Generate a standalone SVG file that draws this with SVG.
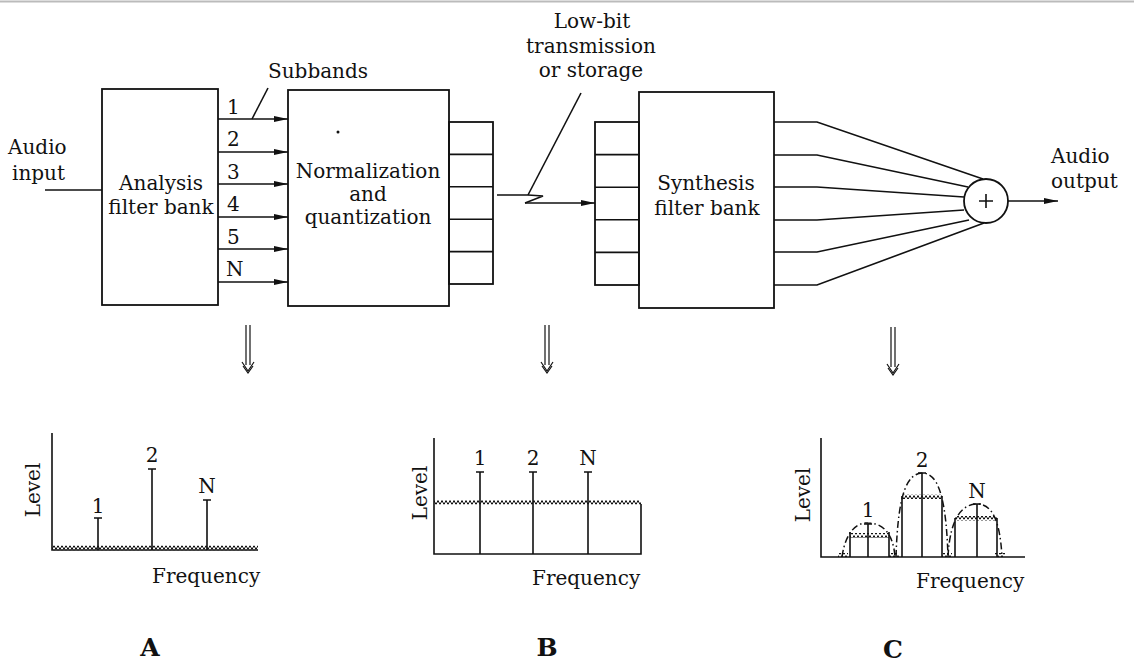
<svg xmlns="http://www.w3.org/2000/svg" width="1134" height="667" viewBox="0 0 1134 667">
<style>
text{font-family:"DejaVu Serif","Liberation Serif",serif;font-size:20px;fill:#111}
.c{text-anchor:middle}
.big{font-size:25px;font-weight:bold}
.ln{stroke:#111;stroke-width:1.6;fill:none}
.box{stroke:#111;stroke-width:1.8;fill:none}
.dd{stroke:#111;stroke-width:1.5;fill:none;stroke-dasharray:7 3 1.5 3}
</style>
<defs>
<marker id="ah" viewBox="0 0 14 6" refX="14" refY="3" markerWidth="14" markerHeight="6" markerUnits="userSpaceOnUse" orient="auto">
<path d="M0,0 L14,3 L0,6 Z" fill="#111"/>
</marker>
<pattern id="zig" x="0" y="0" width="4" height="5" patternUnits="userSpaceOnUse">
<polyline points="0,4.5 2,0.5 4,4.5" fill="none" stroke="#111" stroke-width="1"/>
</pattern>
<g id="dbl">
<line x1="-2" y1="0" x2="-2" y2="40" stroke="#111" stroke-width="1.2"/>
<line x1="2" y1="0" x2="2" y2="40" stroke="#111" stroke-width="1.2"/>
<polyline points="-6,37 0,46 6,37" fill="none" stroke="#111" stroke-width="1.2"/>
<polyline points="-5,41 0,48 5,41" fill="none" stroke="#111" stroke-width="1.2"/>
</g>
</defs>
<rect width="1134" height="667" fill="#fff"/>
<line x1="0" y1="1.5" x2="1134" y2="1.5" stroke="#bbb" stroke-width="2"/>

<g id="audio-input">
<text x="8" y="154">Audio</text>
<text x="12" y="180">input</text>
</g>

<g id="analysis">
<rect class="box" x="102" y="89" width="116" height="216"/>
<text class="c" x="161" y="190">Analysis</text>
<text class="c" x="161" y="214">filter bank</text>
</g>

<g id="subband-labels">
<text x="227" y="114">1</text>
<text x="227" y="146">2</text>
<text x="227" y="179">3</text>
<text x="227" y="211">4</text>
<text x="227" y="244">5</text>
<text x="226" y="276">N</text>
<text x="268" y="78">Subbands</text>
</g>

<g id="normalization">
<rect class="box" x="288" y="90" width="161" height="216"/>
<circle cx="338" cy="132" r="1.5" fill="#111"/>
<text class="c" x="368" y="178">Normalization</text>
<text class="c" x="368" y="201">and</text>
<text class="c" x="368" y="224">quantization</text>
<rect class="box" x="449" y="122" width="44" height="162"/>
<path class="ln" d="M449,154.4 H493 M449,186.8 H493 M449,219.2 H493 M449,251.6 H493"/>
</g>

<g id="transmission-label">
<text class="c" x="592" y="28">Low-bit</text>
<text class="c" x="591" y="53">transmission</text>
<text class="c" x="591" y="77">or storage</text>
</g>

<g id="synthesis">
<rect class="box" x="595" y="122" width="44" height="163"/>
<path class="ln" d="M595,154.6 H639 M595,187.2 H639 M595,219.8 H639 M595,252.4 H639"/>
<rect class="box" x="639" y="92" width="135" height="216"/>
<text class="c" x="706" y="190">Synthesis</text>
<text class="c" x="707" y="215">filter bank</text>
</g>

<g id="sum">
<circle cx="986" cy="201" r="22" class="box"/>
<path class="ln" d="M979,201 H993 M986,194 V208" stroke-width="1.3"/>
</g>

<g id="audio-output">
<text x="1051" y="163">Audio</text>
<text x="1051" y="188">output</text>
</g>

<g id="connectors">
<line class="ln" x1="45" y1="190" x2="102" y2="190"/>
<line class="ln" x1="218" y1="119" x2="288" y2="119" marker-end="url(#ah)"/>
<line class="ln" x1="218" y1="152" x2="288" y2="152" marker-end="url(#ah)"/>
<line class="ln" x1="218" y1="184" x2="288" y2="184" marker-end="url(#ah)"/>
<line class="ln" x1="218" y1="217" x2="288" y2="217" marker-end="url(#ah)"/>
<line class="ln" x1="218" y1="249" x2="288" y2="249" marker-end="url(#ah)"/>
<line class="ln" x1="218" y1="282" x2="288" y2="282" marker-end="url(#ah)"/>
<line class="ln" x1="252" y1="119" x2="268" y2="88" stroke-width="1.3"/>
<polyline class="ln" points="497,195 528,195 543,196 525,203"/>
<line class="ln" x1="525" y1="203" x2="595" y2="203" marker-end="url(#ah)"/>
<line class="ln" x1="528" y1="195" x2="581" y2="93" stroke-width="1.3"/>
<polyline class="ln" points="774,122 817,122 983,179"/>
<polyline class="ln" points="774,155 817,155 968,187"/>
<polyline class="ln" points="774,187 817,187 964,197"/>
<polyline class="ln" points="774,220 817,220 964,210"/>
<polyline class="ln" points="774,252 817,252 969,220"/>
<polyline class="ln" points="774,285 817,285 984,223"/>
<line class="ln" x1="1008" y1="201" x2="1058" y2="201" marker-end="url(#ah)"/>
<use href="#dbl" x="248" y="325"/>
<use href="#dbl" x="547" y="325"/>
<use href="#dbl" x="893" y="327"/>
</g>

<g id="chart-a">
<path class="ln" d="M52,433 V550 H258"/>
<rect x="52" y="545.5" width="206" height="5" fill="url(#zig)"/>
<path class="ln" d="M98,550 V518 M94,518 H102 M152,550 V469 M148,469 H156 M207,550 V500 M203,500 H211"/>
<text class="c" x="98" y="513">1</text>
<text class="c" x="152" y="462">2</text>
<text class="c" x="207" y="493">N</text>
<text class="c" transform="translate(40,490) rotate(-90)">Level</text>
<text x="152" y="583">Frequency</text>
<text class="c big" x="150" y="656">A</text>
</g>

<g id="chart-b">
<path class="ln" d="M434,438 V554 H641 V504"/>
<rect x="434" y="500" width="207" height="5" fill="url(#zig)"/>
<path class="ln" d="M480,554 V472 M476,472 H484 M533,554 V472 M529,472 H537 M588,554 V472 M584,472 H592"/>
<text class="c" x="480" y="465">1</text>
<text class="c" x="533" y="465">2</text>
<text class="c" x="588" y="465">N</text>
<text class="c" transform="translate(427,493) rotate(-90)">Level</text>
<text x="532" y="585">Frequency</text>
<text class="c big" x="547" y="656">B</text>
</g>

<g id="chart-c">
<path class="ln" d="M821,438 V557 H1025"/>
<rect x="838" y="553" width="10" height="4" fill="url(#zig)"/>
<rect x="889" y="553" width="10" height="4" fill="url(#zig)"/>
<rect x="942" y="553" width="10" height="4" fill="url(#zig)"/>
<rect x="995" y="553" width="10" height="4" fill="url(#zig)"/>
<rect x="850" y="533" width="39" height="5" fill="url(#zig)"/>
<rect x="902" y="494" width="40" height="5" fill="url(#zig)"/>
<rect x="955" y="516" width="42" height="5" fill="url(#zig)"/>
<path class="ln" d="M850,557 V532 M889,557 V532 M868,557 V524 M864,524 H872 M902,557 V496 M942,557 V496 M922,557 V473 M918,473 H926 M955,557 V518 M997,557 V518 M977,557 V504 M973,504 H981"/>
<path class="dd" d="M842,557 C846,528 860,522 868,523 C880,523 893,530 895,557"/>
<path class="dd" d="M896,557 C898,490 908,474 922,473 C936,473 946,490 948,557"/>
<path class="dd" d="M948,557 C950,515 964,504 977,504 C992,504 1000,520 1002,557"/>
<text class="c" x="868" y="517">1</text>
<text class="c" x="922" y="467">2</text>
<text class="c" x="977" y="498">N</text>
<text class="c" transform="translate(810,495) rotate(-90)">Level</text>
<text x="916" y="588">Frequency</text>
<text class="c big" x="893" y="658">C</text>
</g>
</svg>
